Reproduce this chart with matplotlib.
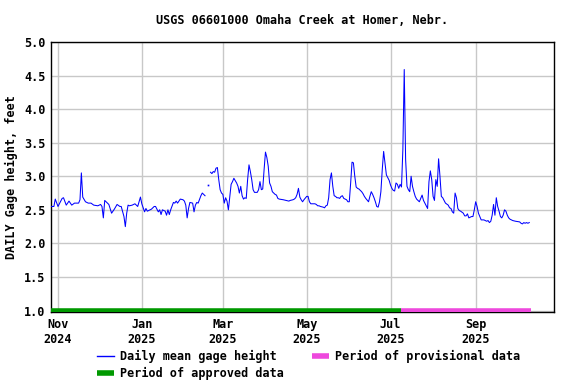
import numpy as np
import matplotlib
matplotlib.use("Agg")
import matplotlib.pyplot as plt
from datetime import datetime, timedelta

# daily mean gage height, feet
dates = [
    "2024-10-27", "2024-10-29", "2024-10-30", "2024-11-01", "2024-11-04", "2024-11-05",
    "2024-11-07", "2024-11-09", "2024-11-11", "2024-11-13", "2024-11-16", "2024-11-17",
    "2024-11-18", "2024-11-19", "2024-11-21", "2024-11-23", "2024-11-25", "2024-11-27",
    "2024-11-30", "2024-12-02", "2024-12-03", "2024-12-04", "2024-12-05", "2024-12-07",
    "2024-12-08", "2024-12-10", "2024-12-12", "2024-12-14", "2024-12-16", "2024-12-17",
    "2024-12-19", "2024-12-20", "2024-12-21", "2024-12-22", "2024-12-23", "2024-12-25",
    "2024-12-27", "2024-12-29", "2024-12-31", "2025-01-01", "2025-01-03", "2025-01-04",
    "2025-01-05", "2025-01-08", "2025-01-10", "2025-01-11", "2025-01-13", "2025-01-14",
    "2025-01-15", "2025-01-16", "2025-01-18", "2025-01-19", "2025-01-20", "2025-01-21",
    "2025-01-22", "2025-01-24", "2025-01-25", "2025-01-26", "2025-01-27", "2025-01-29",
    "2025-01-31", "2025-02-01", "2025-02-02", "2025-02-03", "2025-02-04", "2025-02-05",
    "2025-02-07", "2025-02-08", "2025-02-09", "2025-02-10", "2025-02-11", "2025-02-13",
    "2025-02-14", "2025-02-15", "2025-02-16", "2025-02-17", "2025-02-18", "2025-02-19",
    "2025-02-20", "2025-02-21", "2025-02-22", "2025-02-23", "2025-02-24", "2025-02-25",
    "2025-02-26", "2025-02-27", "2025-02-28", "2025-03-01", "2025-03-02", "2025-03-03",
    "2025-03-04", "2025-03-05", "2025-03-06", "2025-03-07", "2025-03-08", "2025-03-09",
    "2025-03-11", "2025-03-12", "2025-03-13", "2025-03-14", "2025-03-15", "2025-03-16",
    "2025-03-17", "2025-03-18", "2025-03-19", "2025-03-20", "2025-03-21", "2025-03-22",
    "2025-03-23", "2025-03-24", "2025-03-26", "2025-03-27", "2025-03-28", "2025-03-29",
    "2025-03-30", "2025-03-31", "2025-04-01", "2025-04-02", "2025-04-03", "2025-04-04",
    "2025-04-05", "2025-04-06", "2025-04-08", "2025-04-09", "2025-04-10", "2025-04-11",
    "2025-04-14", "2025-04-16", "2025-04-18", "2025-04-19", "2025-04-21", "2025-04-22",
    "2025-04-23", "2025-04-24", "2025-04-25", "2025-04-26", "2025-04-27", "2025-04-28",
    "2025-04-29", "2025-05-01", "2025-05-02", "2025-05-03", "2025-05-04", "2025-05-07",
    "2025-05-08", "2025-05-09", "2025-05-10", "2025-05-11", "2025-05-13", "2025-05-14",
    "2025-05-15", "2025-05-16", "2025-05-17", "2025-05-18", "2025-05-19", "2025-05-20",
    "2025-05-21", "2025-05-22", "2025-05-23", "2025-05-24", "2025-05-25", "2025-05-26",
    "2025-05-27", "2025-05-28", "2025-05-30", "2025-05-31", "2025-06-01", "2025-06-02",
    "2025-06-03", "2025-06-04", "2025-06-05", "2025-06-06", "2025-06-07", "2025-06-08",
    "2025-06-09", "2025-06-10", "2025-06-11", "2025-06-12", "2025-06-13", "2025-06-15",
    "2025-06-16", "2025-06-17", "2025-06-18", "2025-06-19", "2025-06-20", "2025-06-21",
    "2025-06-22", "2025-06-23", "2025-06-24", "2025-06-25", "2025-06-26", "2025-06-27",
    "2025-06-28", "2025-06-29", "2025-06-30", "2025-07-01", "2025-07-02", "2025-07-03",
    "2025-07-04", "2025-07-05", "2025-07-06", "2025-07-07", "2025-07-08", "2025-07-09",
    "2025-07-10", "2025-07-11", "2025-07-12", "2025-07-13", "2025-07-14", "2025-07-15",
    "2025-07-16", "2025-07-17", "2025-07-18", "2025-07-19", "2025-07-20", "2025-07-21",
    "2025-07-22", "2025-07-24", "2025-07-25", "2025-07-26", "2025-07-27", "2025-07-28",
    "2025-07-29", "2025-07-30", "2025-07-31", "2025-08-01", "2025-08-02", "2025-08-03",
    "2025-08-04", "2025-08-05", "2025-08-06", "2025-08-07", "2025-08-08", "2025-08-09",
    "2025-08-10", "2025-08-12", "2025-08-13", "2025-08-14", "2025-08-15", "2025-08-16",
    "2025-08-17", "2025-08-18", "2025-08-19", "2025-08-20", "2025-08-21", "2025-08-23",
    "2025-08-24", "2025-08-25", "2025-08-26", "2025-08-27", "2025-08-29", "2025-08-30",
    "2025-08-31", "2025-09-01", "2025-09-02", "2025-09-03", "2025-09-04", "2025-09-05",
    "2025-09-07", "2025-09-08", "2025-09-09", "2025-09-10", "2025-09-11", "2025-09-12",
    "2025-09-13", "2025-09-14", "2025-09-15", "2025-09-16", "2025-09-17", "2025-09-18",
    "2025-09-19", "2025-09-20", "2025-09-21", "2025-09-22", "2025-09-23", "2025-09-24",
    "2025-09-25", "2025-09-26", "2025-09-27", "2025-09-28", "2025-09-30", "2025-10-03",
    "2025-10-04", "2025-10-05", "2025-10-06", "2025-10-07", "2025-10-08", "2025-10-09",
    "2025-10-10",
]
nan = np.nan
gage_height = [
    2.55, 2.55, 2.66, 2.55, 2.67, 2.68,
    2.57, 2.63, 2.57, 2.60, 2.60, 2.65,
    3.05, 2.69, 2.62, 2.60, 2.60, 2.57,
    2.56, 2.58, 2.55, 2.38, 2.64, 2.60,
    2.58, 2.45, 2.51, 2.58, 2.55, 2.55,
    2.40, 2.25, 2.45, 2.57, 2.56, 2.57,
    2.59, 2.55, 2.69, 2.59, 2.47, 2.52,
    2.48, 2.51, 2.55, 2.55, 2.47, 2.50,
    2.43, 2.50, 2.48, 2.42, 2.50, 2.43,
    2.50, 2.61, 2.60, 2.63, 2.60, 2.66,
    2.65, 2.63, 2.57, 2.38, 2.52, 2.61,
    2.60, 2.47, 2.57, 2.61, 2.60, 2.71,
    2.75, 2.73, 2.71, nan, 2.87, nan,
    3.06, 3.04, 3.07, 3.06, 3.12, 3.13,
    2.95, 2.80, 2.75, 2.73, 2.60, 2.68,
    2.63, 2.50, 2.69, 2.88, 2.92, 2.97,
    2.90, 2.85, 2.75, 2.85, 2.71, 2.66,
    2.68, 2.67, 2.95, 3.17, 3.07, 2.95,
    2.80, 2.76, 2.76, 2.80, 2.92, 2.80,
    2.81, 3.10, 3.36, 3.28, 3.15, 2.90,
    2.85, 2.77, 2.73, 2.72, 2.67, 2.66,
    2.65, 2.64, 2.63, 2.64, 2.65, 2.66,
    2.68, 2.73, 2.82, 2.69, 2.65, 2.62,
    2.65, 2.70, 2.70, 2.62, 2.59, 2.59,
    2.58, 2.56, 2.56, 2.55, 2.54, 2.53,
    2.56, 2.57, 2.68, 2.95, 3.05, 2.85,
    2.71, 2.70, 2.68, 2.68, 2.67, 2.70,
    2.71, 2.67, 2.65, 2.62, 2.62, 2.90,
    3.21, 3.20, 3.00, 2.84, 2.82, 2.81,
    2.79, 2.77, 2.74, 2.70, 2.67, 2.62,
    2.70, 2.77, 2.73, 2.68, 2.62, 2.55,
    2.54, 2.62, 2.77, 3.10, 3.37, 3.20,
    3.02, 2.98, 2.94, 2.87, 2.82, 2.79,
    2.78, 2.90, 2.88, 2.82, 2.88, 2.84,
    3.40, 4.59, 3.25, 2.85, 2.80, 2.77,
    3.00, 2.85, 2.77, 2.70, 2.66, 2.64,
    2.62, 2.72, 2.64, 2.60, 2.56, 2.52,
    2.92, 3.08, 2.95, 2.70, 2.64, 2.95,
    2.85, 3.26, 3.00, 2.70, 2.68, 2.64,
    2.60, 2.57, 2.53, 2.52, 2.47, 2.45,
    2.75, 2.68, 2.52, 2.49, 2.48, 2.45,
    2.41, 2.41, 2.44, 2.38, 2.40, 2.40,
    2.50, 2.62, 2.55, 2.45, 2.40, 2.35,
    2.35, 2.34, 2.33, 2.34, 2.31, 2.33,
    2.42, 2.58, 2.42, 2.68, 2.55, 2.48,
    2.40, 2.38, 2.42, 2.50, 2.48, 2.42,
    2.38, 2.36, 2.35, 2.34, 2.33, 2.32,
    2.30, 2.29, 2.31, 2.30, 2.31, 2.30,
    2.31,
]

approved_period = ["2024-10-27", "2025-07-09"]
provisional_period = ["2025-07-09", "2025-10-11"]

month_ticks = ["2024-11-01", "2025-01-01", "2025-03-01", "2025-05-01", "2025-07-01", "2025-09-01"]
month_labels = ["Nov\n2024", "Jan\n2025", "Mar\n2025", "May\n2025", "Jul\n2025", "Sep\n2025"]

def to_dt(s):
    return datetime.strptime(s, "%Y-%m-%d")

x = [to_dt(d) for d in dates]
y = np.array(gage_height)

mono = "DejaVu Sans Mono"
fs = 8.5
plt.rcParams["font.family"] = mono
plt.rcParams["font.weight"] = "bold"

fig = plt.figure(figsize=(5.76, 3.84), dpi=100)
ax = fig.add_axes([51 / 576, 1 - 312 / 384, 503 / 576, 270 / 384])

ax.plot(x, y, color="#0000ff", lw=0.75, label="Daily mean gage height", zorder=3)
# lone values between gaps
for i in range(1, len(y) - 1):
    if np.isnan(y[i - 1]) and np.isnan(y[i + 1]) and not np.isnan(y[i]):
        ax.plot([x[i]], [y[i]], "s", color="#0000ff", ms=1.2, mew=0, zorder=3)

ax.plot([to_dt(d) for d in approved_period], [1.0, 1.0], color="#009900", lw=4,
        solid_capstyle="butt", label="Period of approved data", zorder=4)
ax.plot([to_dt(d) for d in provisional_period], [1.0, 1.0], color="#ee48dd", lw=4,
        solid_capstyle="butt", label="Period of provisional data", zorder=4)

nov1 = datetime(2024, 11, 1)
ax.set_xlim(nov1 - timedelta(days=5.1), nov1 + timedelta(days=361))
ax.set_ylim(0.978, 5.0)

ax.set_xticks([to_dt(d) for d in month_ticks])
ax.set_xticklabels(month_labels, fontsize=fs, fontweight="bold", linespacing=1.2)
ax.set_yticks(np.arange(1.0, 5.01, 0.5))
ax.set_yticklabels(["%.1f" % v for v in np.arange(1.0, 5.01, 0.5)], fontsize=fs, fontweight="bold")
ax.tick_params(axis="both", length=0, pad=4)
ax.grid(True, color="#c8c8c8", lw=1.0)
ax.set_axisbelow(True)
for sp in ax.spines.values():
    sp.set_linewidth(1.0)
    sp.set_color("black")

ax.set_ylabel("DAILY Gage height, feet", fontsize=fs, fontweight="bold")
ax.yaxis.set_label_coords(-0.066, 0.5)

fig.text(302.5 / 576, 1 - 20 / 384, "USGS 06601000 Omaha Creek at Homer, Nebr.",
         ha="center", va="center", fontsize=fs, fontweight="bold")

h, l = ax.get_legend_handles_labels()
leg = fig.legend(h, l, ncol=2,
                 loc="upper left", bbox_to_anchor=(97 / 576, 1 - 350 / 384),
                 frameon=False, fontsize=fs, handlelength=1.45, handletextpad=0.5,
                 columnspacing=2.4, borderpad=0, borderaxespad=0, labelspacing=0.3)
for line in leg.get_lines():
    if line.get_label() != "Daily mean gage height":
        line.set_linewidth(4)
    else:
        line.set_linewidth(1)

fig.savefig("out.png", dpi=100)
